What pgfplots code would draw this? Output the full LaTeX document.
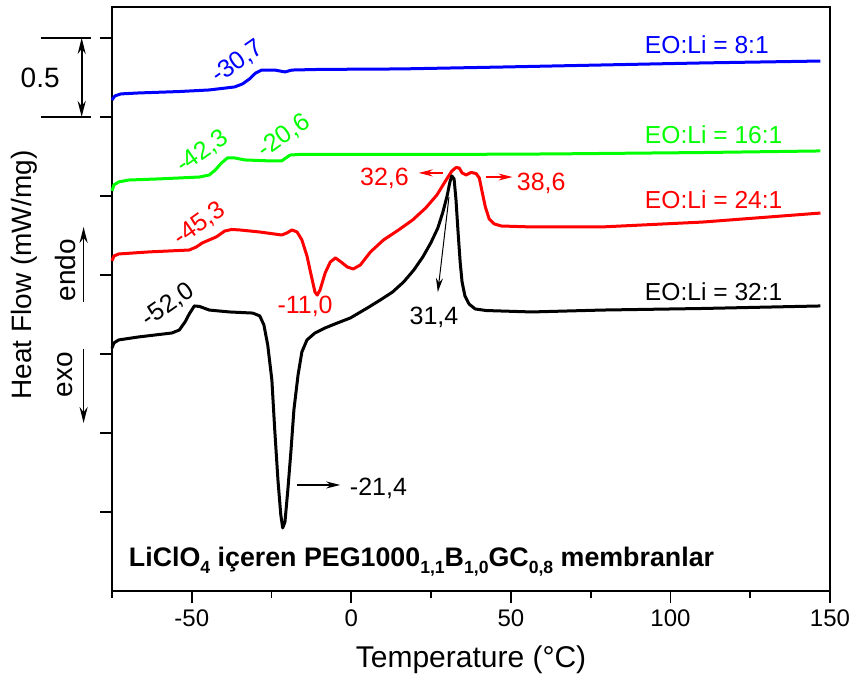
\documentclass[border=0pt]{standalone}
\usepackage{fontspec}
\setmainfont{Liberation Sans}
\usepackage{pgfplots}
\pgfplotsset{compat=1.18}
\usetikzlibrary{arrows.meta}
\newcommand\sub[1]{\raisebox{-0.5ex}{\fontsize{8.8}{10}\selectfont #1}}

\begin{document}
\begin{tikzpicture}
\begin{axis}[
    name=ax,
    scale only axis,
    width=359pt, height=292pt,
    xmin=-75, xmax=150,
    ymin=0, ymax=3.696,
    xtick={-50,0,50,100,150},
    minor xtick={-75,-25,25,75,125},
    ytick={0.5,1,1.5,2,2.5,3,3.5},
    yticklabels={},
    tick pos=left,
    tick align=outside,
    major tick length=6pt,
    minor tick length=3.5pt,
    tick style={black, line width=0.9pt},
    axis line style={line width=0.9pt},
    /pgf/number format/assume math mode=true,
    tick label style={font=\fontsize{12}{14}\selectfont},
    xlabel={Temperature (°C)},
    xlabel style={font=\fontsize{15}{18}\selectfont, at={(axis description cs:0.5,-0.118)}, anchor=center},
    ylabel={Heat Flow (mW/mg)},
    ylabel style={font=\fontsize{14}{17}\selectfont, inner sep=0pt, at={(axis description cs:-0.1226,0.541)}, anchor=center},
    clip=false,
    every axis plot/.append style={line width=1.5pt, line join=round},
]

% EO:Li = 8:1
\addplot[blue] coordinates {
(-75,3.108) (-74.1,3.133) (-72.2,3.146) (-66.6,3.152) (-53.9,3.161) (-44.5,3.171)
(-36.6,3.190) (-34.1,3.209) (-31.9,3.241) (-30.0,3.278) (-28.1,3.297) (-24.0,3.297)
(-20.8,3.285) (-18.6,3.297) (-9.8,3.301) (15.5,3.304) (47.0,3.316) (78.5,3.329)
(110.1,3.342) (147.0,3.354)
};

% EO:Li = 16:1
\addplot[green] coordinates {
(-75,2.532) (-74.4,2.570) (-72.9,2.589) (-69.7,2.601) (-60.3,2.608) (-47.6,2.620)
(-44.5,2.633) (-42.6,2.665) (-40.7,2.709) (-38.8,2.741) (-36.6,2.741) (-33.4,2.728)
(-25.6,2.722) (-21.8,2.722) (-20.5,2.741) (-19.2,2.759) (-16.1,2.763) (-0.3,2.763)
(31.2,2.763) (62.8,2.766) (110.1,2.775) (147.0,2.785)
};

% EO:Li = 24:1
\addplot[red] coordinates {
(-75,2.089) (-74.4,2.120) (-72.9,2.133) (-63.4,2.146) (-50.8,2.158) (-48.6,2.177)
(-46.7,2.203) (-44.5,2.222) (-42.3,2.241) (-39.7,2.278) (-37.5,2.288) (-35.0,2.285)
(-28.7,2.272) (-21.8,2.253) (-20.2,2.266) (-18.6,2.285) (-17.0,2.272) (-15.5,2.222)
(-13.9,2.120) (-12.6,2.000) (-11.4,1.892) (-10.7,1.873) (-9.8,1.905) (-8.2,2.013)
(-6.6,2.082) (-5.0,2.108) (-3.2,2.082) (-1.3,2.051) (0.6,2.038) (2.8,2.063)
(6.0,2.146) (10.1,2.222) (14.8,2.285) (19.2,2.348) (23.3,2.424) (26.8,2.506)
(29.7,2.601) (31.5,2.658) (32.8,2.680) (33.8,2.677) (34.7,2.646) (36.0,2.633)
(37.5,2.649) (39.1,2.642) (40.1,2.614) (41.0,2.525) (42.0,2.430) (43.2,2.354)
(44.8,2.323) (47.0,2.310) (56.5,2.304) (78.5,2.304) (110.1,2.335) (147.0,2.392)
};

% EO:Li = 32:1
\addplot[black] coordinates {
(-75,1.538) (-74.4,1.570) (-72.9,1.589) (-66.6,1.608) (-56.2,1.633) (-53.9,1.652)
(-52.1,1.703) (-50.8,1.753) (-49.2,1.804) (-47.6,1.801) (-44.5,1.778) (-38.2,1.766)
(-30.9,1.759) (-28.7,1.741) (-27.4,1.684) (-26.2,1.557) (-24.9,1.335) (-24.0,1.019)
(-23.0,0.703) (-22.1,0.481) (-21.5,0.399) (-20.8,0.437) (-19.9,0.639) (-18.9,0.892)
(-18.0,1.146) (-16.7,1.367) (-15.5,1.513) (-13.9,1.589) (-11.4,1.633) (-8.2,1.665)
(-4.4,1.696) (-0.3,1.728) (5.0,1.791) (9.1,1.842) (12.9,1.892) (16.4,1.956)
(19.6,2.032) (22.4,2.114) (24.9,2.203) (27.1,2.297) (28.7,2.399) (30.0,2.500)
(30.9,2.589) (31.5,2.627) (32.2,2.608) (32.8,2.475) (33.4,2.285) (34.1,2.082)
(34.7,1.956) (35.6,1.867) (36.9,1.816) (38.8,1.785) (42.3,1.775) (56.5,1.766)
(78.5,1.778) (110.1,1.788) (147.0,1.804)
};

% series labels
\node[anchor=west, blue, font=\fontsize{12.3}{14}\selectfont] at (axis cs:89.8,3.456) {EO:Li = 8:1};
\node[anchor=west, green, font=\fontsize{12.3}{14}\selectfont] at (axis cs:89.8,2.886) {EO:Li = 16:1};
\node[anchor=west, red, font=\fontsize{12.3}{14}\selectfont] at (axis cs:89.8,2.475) {EO:Li = 24:1};
\node[anchor=west, black, font=\fontsize{12.3}{14}\selectfont] at (axis cs:89.8,1.892) {EO:Li = 32:1};

% transition temperatures
\node[blue, rotate=35, font=\fontsize{12.5}{14}\selectfont] at (axis cs:-35.6,3.35) {-30,7};
\node[green, rotate=35, font=\fontsize{12.5}{14}\selectfont] at (axis cs:-46.7,2.78) {-42,3};
\node[green, rotate=35, font=\fontsize{12.5}{14}\selectfont] at (axis cs:-21.1,2.88) {-20,6};
\node[red, rotate=35, font=\fontsize{12.5}{14}\selectfont] at (axis cs:-47.6,2.32) {-45,3};
\node[black, rotate=35, font=\fontsize{12.5}{14}\selectfont] at (axis cs:-57.4,1.81) {-52,0};
\node[red, font=\fontsize{12.5}{14}\selectfont] at (axis cs:-14.5,1.80) {-11,0};
\node[black, font=\fontsize{12.5}{14}\selectfont] at (axis cs:25.9,1.73) {31,4};
\node[red, font=\fontsize{12.5}{14}\selectfont] at (axis cs:10.4,2.61) {32,6};
\node[red, font=\fontsize{12.5}{14}\selectfont] at (axis cs:59.5,2.58) {38,6};
\node[black, font=\fontsize{12.5}{14}\selectfont] at (axis cs:8.5,0.652) {-21,4};

\draw[black, line width=0.5pt, -{Stealth[length=7pt,width=3.5pt]}] (axis cs:30.6,2.494) -- (axis cs:27.1,1.892);
\draw[red, line width=0.6pt, -{Stealth[length=7pt,width=3.5pt]}] (axis cs:28.7,2.646) -- (axis cs:21.1,2.646);
\draw[red, line width=0.6pt, -{Stealth[length=7pt,width=3.5pt]}] (axis cs:42.3,2.62) -- (axis cs:50.5,2.62);
\draw[black, line width=0.6pt, -{Stealth[length=7pt,width=3.5pt]}] (axis cs:-17.0,0.671) -- (axis cs:-3.5,0.671);

% inner title
\node[anchor=base west, font=\fontsize{13.4}{16}\selectfont\bfseries] at (axis cs:-71.9,0.158)
  {LiClO\sub{4} içeren PEG1000\sub{1,1}B\sub{1,0}GC\sub{0,8} membranlar};

% scale bar
\draw[line width=0.9pt] (axis cs:-97.2,3.5) -- (axis cs:-81.7,3.5);
\draw[line width=0.9pt] (axis cs:-97.2,3.0) -- (axis cs:-81.7,3.0);
\draw[line width=0.9pt, {Stealth[length=8pt,width=4pt]}-{Stealth[length=8pt,width=4pt]}] (axis cs:-84.5,3.0) -- (axis cs:-84.5,3.5);
\node[font=\fontsize{14}{17}\selectfont] at (axis cs:-97.5,3.247) {0.5};

% endo / exo
\draw[line width=0.9pt, -{Stealth[length=8pt,width=4pt]}] (axis cs:-83.9,1.829) -- (axis cs:-83.9,2.304);
\draw[line width=0.9pt, -{Stealth[length=8pt,width=4pt]}] (axis cs:-83.9,1.532) -- (axis cs:-83.9,1.063);
\node[rotate=90, font=\fontsize{14}{17}\selectfont] at (axis cs:-89.6,2.03) {endo};
\node[rotate=90, font=\fontsize{14}{17}\selectfont] at (axis cs:-89.6,1.37) {exo};

\end{axis}
\pgfresetboundingbox
\useasboundingbox ([xshift=-56pt,yshift=-49.5pt]ax.south west) rectangle ([xshift=12pt,yshift=3.5pt]ax.north east);
\end{tikzpicture}
\end{document}
